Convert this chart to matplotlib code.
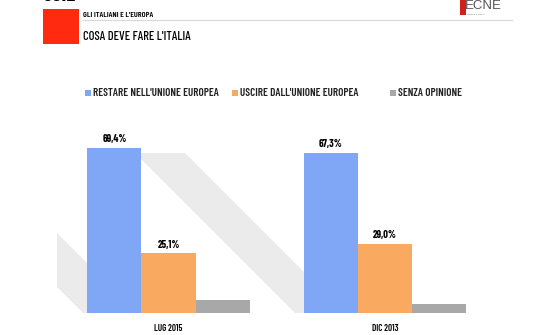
import matplotlib.pyplot as plt
from matplotlib.patches import Rectangle, Polygon
import numpy as np

W, H = 558, 335

periods = ["LUG 2015", "DIC 2013"]
series = ["RESTARE NELL'UNIONE EUROPEA", "USCIRE DALL'UNIONE EUROPEA", "SENZA OPINIONE"]
restare = [69.4, 67.3]
uscire = [25.1, 29.0]
senza = [5.5, 3.7]
labels_restare = ["69,4%", "67,3%"]
labels_uscire = ["25,1%", "29,0%"]
colors = ["#7fa7f5", "#f9aa60", "#a8a8a8"]

plt.rcParams['font.family'] = ["Barlow Condensed", "DejaVu Sans"]


def px(x, y):
    # pixel (from top-left) -> figure fraction
    return x / W, 1 - y / H


fig = plt.figure(figsize=(W / 100, H / 100), dpi=100)
fig.patch.set_facecolor("white")

# background watermark stripes
bg = fig.add_axes([0, 0, 1, 1], zorder=0)
bg.set_xlim(0, W)
bg.set_ylim(H, 0)
bg.axis("off")
bg.add_patch(Polygon([(135, 153), (185, 153), (345, 313), (295, 313)],
                     closed=True, color="#ebebeb", lw=0))
bg.add_patch(Polygon([(57, 233), (137, 313), (83, 313), (57, 287)],
                     closed=True, color="#ebebeb", lw=0))

# header
fig.text(*px(42, 5), "CGIL", fontsize=15, fontweight="bold", color="black", va="bottom", ha="left")
fig.patches.append(Rectangle(px(43, 44), 36 / W, 35 / H, transform=fig.transFigure,
                             color="#ff2a10", lw=0))
fig.text(*px(83, 15), "GLI ITALIANI E L'EUROPA", fontsize=6, fontweight="semibold",
         va="center", ha="left")
fig.lines.append(plt.Line2D([83 / W, 512 / W], [1 - 20 / H] * 2, transform=fig.transFigure,
                            color="#d8d8d8", lw=0.8))
fig.text(*px(83, 37), "COSA DEVE FARE L'ITALIA", fontsize=9, fontweight="medium",
         va="center", ha="left")
fig.patches.append(Rectangle(px(460, 15), 6 / W, 15 / H, transform=fig.transFigure,
                             color="#d0201c", lw=0))
fig.text(*px(465, 6), "ECNE", fontsize=9.5, color="#555555", va="center", ha="left",
         family=["Liberation Sans", "DejaVu Sans"])
fig.text(*px(467, 14.5), "consulting & strategy", fontsize=1.8, color="#777777",
         va="center", ha="left")

# legend
leg_x = [85, 232, 390]
for lx, name, c in zip(leg_x, series, colors):
    fig.patches.append(Rectangle(px(lx, 96), 6 / W, 6 / H, transform=fig.transFigure, color=c, lw=0))
    fig.text(*px(lx + 8, 93), name, fontsize=8, fontweight="semibold", va="center", ha="left",
             color="#222222")

# bars
ax = fig.add_axes([0, 22 / H, 1, 238 / H], zorder=1)
ax.patch.set_alpha(0)
x = np.arange(len(periods))
bw = 0.25
ax.bar(x - bw, restare, bw, color=colors[0])
ax.bar(x, uscire, bw, color=colors[1])
ax.bar(x + bw, senza, bw, color=colors[2])
for i in range(len(periods)):
    ax.text(x[i] - bw, restare[i] + 1.5, labels_restare[i], ha="center", va="bottom",
            fontsize=7.5, fontweight="bold")
    ax.text(x[i], uscire[i] + 1.5, labels_uscire[i], ha="center", va="bottom",
            fontsize=7.5, fontweight="bold")
    ax.text(x[i], -4.5, periods[i], ha="center", va="top", fontsize=6.5, fontweight="semibold")
ax.set_xlim(-168.5 / 216.5, (W - 168.5) / 216.5)
ax.set_ylim(0, 100)
ax.axis("off")

fig.savefig("out.png", dpi=100)
